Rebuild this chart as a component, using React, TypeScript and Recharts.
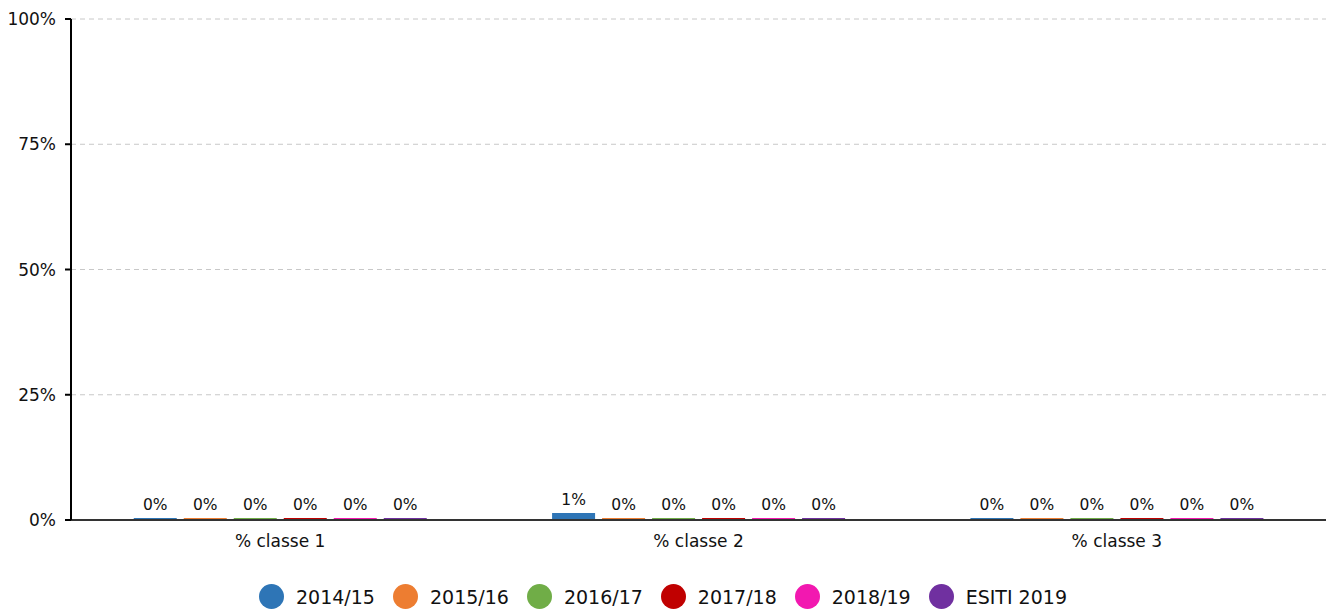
import { Bar, BarChart, CartesianGrid, LabelList, Legend, XAxis, YAxis } from 'recharts'

const categories = ['% classe 1', '% classe 2', '% classe 3']
const seriesNames = ['2014/15', '2015/16', '2016/17', '2017/18', '2018/19', 'ESITI 2019']
const seriesColors = ['#2e75b6', '#ed7d31', '#70ad47', '#c00000', '#f218b0', '#7030a0']
const s2014 = [0, 1.4, 0]
const s2015 = [0, 0, 0]
const s2016 = [0, 0, 0]
const s2017 = [0, 0, 0]
const s2018 = [0, 0, 0]
const sEsiti = [0, 0, 0]
const yTicks = [0, 25, 50, 75, 100]

const allSeries = [s2014, s2015, s2016, s2017, s2018, sEsiti]
const data = categories.map((c, i) => {
  const row: Record<string, any> = { name: c }
  seriesNames.forEach((s, j) => (row[s] = allSeries[j][i]))
  return row
})

const font = '"DejaVu Sans", Verdana, sans-serif'

function ChartLegend() {
  return (
    <div style={{ display: 'flex', justifyContent: 'center', alignItems: 'center', paddingTop: 24, fontFamily: font, fontSize: 19, color: '#111' }}>
      {seriesNames.map((s, i) => (
        <div key={s} style={{ display: 'flex', alignItems: 'center', marginRight: i < seriesNames.length - 1 ? 18 : 0 }}>
          <span style={{ width: 25, height: 25, borderRadius: '50%', background: seriesColors[i], display: 'inline-block', marginRight: 12 }} />
          <span>{s}</span>
        </div>
      ))}
    </div>
  )
}

export default function App() {
  return (
    <div style={{ position: 'absolute', left: 0, top: 0 }}>
      <BarChart width={1326} height={610} data={data} margin={{ top: 19, right: 0, left: 0, bottom: 6 }} barCategoryGap="15%" barGap={7}>
        <CartesianGrid vertical={false} stroke="#c8c8c8" strokeDasharray="5 4" />
        <XAxis
          dataKey="name"
          height={40}
          tick={{ fontSize: 17, fill: '#111', fontFamily: font }}
          tickLine={false}
          axisLine={{ stroke: '#333', strokeWidth: 2 }}
          tickMargin={9}
        />
        <YAxis
          domain={[0, 100]}
          ticks={yTicks}
          width={71}
          tickFormatter={(v) => `${v}%`}
          tick={{ fontSize: 17, fill: '#111', fontFamily: font }}
          tickSize={6}
          tickMargin={9}
          tickLine={{ stroke: '#000', strokeWidth: 2 }}
          axisLine={{ stroke: '#000', strokeWidth: 2 }}
          interval={0}
        />
        <Legend content={<ChartLegend />} verticalAlign="bottom" height={44} />
        {seriesNames.map((s, i) => (
          <Bar key={s} dataKey={s} fill={seriesColors[i]} minPointSize={2} isAnimationActive={false}>
            <LabelList
              dataKey={s}
              position="top"
              offset={8}
              formatter={(v: any) => `${Math.round(Number(v))}%`}
              style={{ fontSize: 15.5, fill: '#111', fontFamily: font }}
            />
          </Bar>
        ))}
      </BarChart>
    </div>
  )
}
